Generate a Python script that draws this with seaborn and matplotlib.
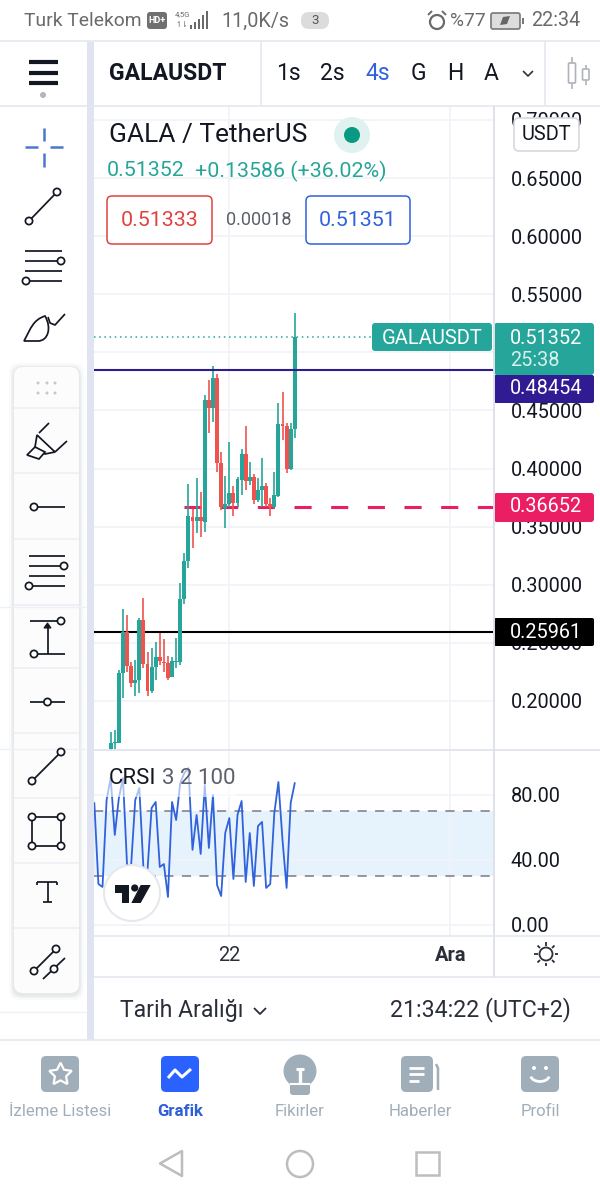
import numpy as np
import pandas as pd
import matplotlib.pyplot as plt
from matplotlib.patches import Circle, FancyBboxPatch, Rectangle, Polygon, PathPatch, Arc
from matplotlib.path import Path
import seaborn as sns

# candles, 4h GALAUSDT
opens = [.1587,.1634,.1639,.2241,.2594,.2301,.2155,.2181,.2697,.2318,.2086,.2293,.2379,.2336,.2327,.2207,
         .2336,.2336,.2878,.3205,.3583,.3549,.3583,.3540,.4590,.4522,.4780,.4048,.3661,.3695,.3790,.3704,
         .3902,.4126,.3893,.3928,.3730,.3816,.3850,.3695,.3670,.3764,.4384,.4367,.3997,.4341]
closes = [.1639,.1647,.2241,.2594,.2301,.2155,.2181,.2697,.2318,.2086,.2293,.2379,.2344,.2327,.2198,.2344,
          .2344,.2878,.3205,.3592,.3549,.3583,.3549,.4590,.4522,.4780,.4048,.3670,.3695,.3790,.3704,.3910,
          .4126,.3893,.3928,.3730,.3816,.3850,.3695,.3670,.3773,.4384,.4367,.3997,.4341,.5133]
highs = [.1733,.1750,.2267,.2792,.2740,.2336,.2353,.2714,.2886,.2422,.2456,.2508,.2585,.2534,.2387,.2379,
         .2542,.3015,.3274,.3867,.3652,.3919,.3799,.4633,.4762,.4883,.4814,.4143,.3936,.4229,.3850,.3928,
         .4169,.4367,.4057,.3954,.3919,.4091,.3876,.3747,.3971,.4565,.4659,.4392,.4392,.5339]
lows = [.1578,.1587,.1634,.2026,.2250,.2120,.2043,.2069,.2284,.2043,.2069,.2181,.2310,.2250,.2181,.2207,
        .2284,.2310,.2835,.3145,.3317,.3446,.3411,.3454,.4306,.4401,.3971,.3644,.3489,.3670,.3592,.3670,
        .3773,.3816,.3859,.3695,.3713,.3670,.3670,.3592,.3661,.3756,.4246,.3962,.3988,.4263]

# CRSI starts 4 bars before the first visible candle
crsi_idx = list(range(-4, 46))
crsi_vals = [75.1,25.2,23.4,76.9,90.5,55.4,78.2,90.5,36.9,36.9,76.9,84.3,35.1,33.8,72.0,75.7,35.7,37.5,17.2,75.7,
             64.6,87.4,93.5,96.6,46.2,67.7,43.7,86.2,47.4,80.0,24.6,17.8,56.6,65.8,28.3,67.7,76.3,26.5,56.6,24.0,
             60.9,63.4,22.8,25.2,68.9,88.0,52.3,22.8,75.1,87.4]

price_ticks = [.20,.25,.30,.35,.40,.45,.50,.55,.60,.65,.70]
crsi_ticks = [0,40,80]
last_price = 0.51352
navy_level = 0.48454
pink_level = 0.36652
black_level = 0.25961
tick_bars = [29,83]
tick_names = ['22','Ara']

GREEN = '#26a69a'
RED = '#ef5350'
BLUE = '#2f62dc'
GRID = '#f1f3f8'
EDGE = '#e4e7ef'
DARK = '#131722'
NAVBLUE = '#a0aeb9'

sns.set_theme(style='white')
plt.rcParams['font.family'] = ['Roboto', 'DejaVu Sans']

fig = plt.figure(figsize=(6,12), dpi=100, facecolor='white')
def px_axes(x0, y0, x1, y1, **kw):
    return fig.add_axes([x0/600, 1-y1/1200, (x1-x0)/600, (y1-y0)/1200], **kw)

# price pane
ax = px_axes(94, 106, 494, 750)
ax.set_xlim(-4.08, 93.7)
ax.set_ylim(0.1578, 0.7120)
ax.set_yticks(price_ticks)
# 0.50000 sits completely under the last price tag
ax.set_yticklabels(['' if p == .50 else '%.5f' % p for p in price_ticks])
ax.yaxis.tick_right()
ax.set_xticks(tick_bars)
ax.set_xticklabels([])
ax.grid(True, color=GRID, lw=1.3)
ax.set_axisbelow(True)
ax.tick_params(axis='y', length=0, pad=12, labelsize=14.3, labelcolor=DARK)
ax.tick_params(axis='x', length=0)
sns.despine(ax=ax, left=True, bottom=True, right=True, top=True)

ax.axhline(black_level, color='black', lw=1.5, zorder=1.5)
ax.hlines(pink_level, 18, 93.7, color='#e91e63', lw=2.2, linestyles=[(0,(5.6,6.4))], zorder=1.6)
ax.axhline(last_price, color=GREEN, lw=1.1, ls=(0,(1,2.4)), zorder=1.5)

idx = np.arange(len(opens))
colors = [GREEN if c >= o else RED for o, c in zip(opens, closes)]
ax.vlines(idx, lows, highs, colors=colors, lw=1.2, zorder=3)
ax.bar(idx, np.array(closes)-np.array(opens), bottom=opens, width=0.95, color=colors, lw=0, zorder=3)
ax.axhline(navy_level, color='#311b92', lw=1.5, zorder=4)

# CRSI pane
ax2 = px_axes(94, 750, 494, 936)
ax2.set_xlim(-4.08, 93.7)
ax2.set_ylim(-6.8, 107.7)
ax2.axhspan(30, 70, color='#e6f2fc', lw=0, zorder=0.5)
ax2.set_yticks(crsi_ticks)
ax2.set_yticklabels(['%.2f' % v for v in crsi_ticks])
ax2.yaxis.tick_right()
ax2.set_xticks(tick_bars)
ax2.set_xticklabels(tick_names)
ax2.get_xticklabels()[1].set_fontweight('bold')
ax2.grid(True, color=GRID, lw=1.3)
ax2.set_axisbelow(True)
ax2.tick_params(axis='y', length=0, pad=12, labelsize=14.3, labelcolor=DARK)
ax2.tick_params(axis='x', length=0, pad=7, labelsize=14.4, labelcolor='#2a2e39')
for lev in [30, 70]:
    ax2.axhline(lev, color='#787b86', lw=1.1, ls=(0,(6,5.5)), zorder=1)
sns.lineplot(x=crsi_idx, y=crsi_vals, ax=ax2, color=BLUE, lw=1.3, zorder=3)
ax2.set_xlabel('')
ax2.set_ylabel('')
sns.despine(ax=ax2, left=True, bottom=True, right=True, top=True)

# everything around the chart, in screen pixels
ui = fig.add_axes([0,0,1,1], zorder=10)
ui.set_xlim(0,600)
ui.set_ylim(1200,0)
ui.axis('off')
ui.patch.set_alpha(0)

def line(xs, ys, c=DARK, lw=1.25, **kw):
    ui.plot(xs, ys, color=c, lw=lw, solid_capstyle=kw.pop('cap','butt'), **kw)
def dot(x, y, r=3.6, fc='white', ec=DARK, lw=1.25):
    ui.add_patch(Circle((x,y), r, fc=fc, ec=ec, lw=lw, zorder=5))
def txt(x, y, s, size=14, c=DARK, ha='left', **kw):
    ui.text(x, y, s, fontsize=size, color=c, ha=ha, va='center', **kw)
def rbox(x0, y0, x1, y1, r=3, fc='white', ec='none', lw=1.2, **kw):
    p = FancyBboxPatch((x0+r,y0+r), x1-x0-2*r, y1-y0-2*r, boxstyle='round,pad=%f,rounding_size=%f' % (r,r),
                       fc=fc, ec=ec, lw=lw, **kw)
    ui.add_patch(p)

# frame lines
ui.add_patch(Rectangle((87,42), 7, 998, fc='#e0e4f1', ec='none'))
line([0,600],[41,41],EDGE,1.2)
line([0,87],[106,106],EDGE,1.2)
line([94,600],[106,106],EDGE,1.2)
line([261,261],[42,106],EDGE,1.2)
line([545,545],[42,106],EDGE,1.2)
line([494,494],[106,978],'#dfe2ea',1.4)
line([94,600],[750,750],'#dfe2ea',1.2)
line([94,600],[936,936],EDGE,1.2)
line([94,600],[977,977],EDGE,1.2)
line([0,600],[1040,1040],EDGE,1.2)
for yy in [607,749,1012]:
    line([0,87],[yy,yy],'#eef0f5',1)
ui.add_patch(Rectangle((495,932),105,3.4,fc='white',ec='none'))

# status bar
txt(24,21,'Turk Telekom',13.9,'#6a6a6a')
rbox(147,12,167,29,r=3,fc='#6f6f6f')
txt(157,20.5,'HD+',6.5,'white',ha='center',fontweight='bold')
txt(182,14,'4,5G',5.5,'#6a6a6a',ha='center')
txt(182,25,'↿⇂',5.5,'#6a6a6a',ha='center')
for k,h in enumerate([4,7,10,14,18]):
    ui.add_patch(Rectangle((190+k*4,29-h),2.4,h,fc='#6a6a6a',ec='none'))
txt(221,21,'11,0K/s',14.2,'#6a6a6a')
rbox(301,12,329,29,r=8,fc='#dcdcdc')
txt(315,20.5,'3',9.5,'#555555',ha='center')
dot(437,22,r=7,ec='#6a6a6a',lw=1.6)
line([437,437,441],[17,22,24],'#6a6a6a',1.2)
line([428,432],[15,11],'#6a6a6a',1.4)
line([442,446],[11,15],'#6a6a6a',1.4)
txt(450,21,'%77',13.8,'#6a6a6a')
rbox(491,13,520,29,r=2,fc='#dddddd',ec='#777777',lw=1.2)
ui.add_patch(Rectangle((522,18),2,6,fc='#777777',ec='none'))
ui.add_patch(Polygon([(500,25),(503,17),(510,16),(507,24)],fc='#666666',ec='none'))
txt(531,21,'22:34',14.2,'#6a6a6a')

# header
for yy in [62,73,83]:
    line([29,58],[yy,yy],'#131722',3)
dot(43,95,r=3,fc='#b2b5bd',ec='none')
txt(109,73,'GALAUSDT',16.6,DARK,fontweight='bold')
for xx,s,c in [(288,'1s',DARK),(332,'2s',DARK),(378,'4s',BLUE),(418,'G',DARK),(455,'H',DARK),(491,'A',DARK)]:
    txt(xx,73,s,16.5,c,ha='center')
line([523,528,533],[71,76,71],'#333333',1.2)
line([572,572],[57,89],'#b0b3bb',1.2)
rbox(568.5,63,575.5,83,r=1,fc='white',ec='#b0b3bb',lw=1.2,zorder=5)
line([585.5,585.5],[65,85],'#b0b3bb',1.2)
rbox(582.5,69,589,80,r=1,fc='white',ec='#b0b3bb',lw=1.2,zorder=5)

# chart legend
txt(109,135,'GALA / TetherUS',18.9,DARK)
ui.add_patch(Circle((352,135),18,fc='#e0f2ef',ec='none'))
ui.add_patch(Circle((352,135),8,fc='#089981',ec='none'))
txt(107,171,'0.51352',15.4,GREEN)
txt(195,171,'+0.13586 (+36.02%)',15.4,GREEN)
rbox(107,196,212,244,r=5,fc='white',ec='#e0433f',lw=1.1)
txt(160,220,'0.51333',15.4,'#e0433f',ha='center')
txt(259,220,'0.00018',13,'#5d606b',ha='center')
rbox(306,196,410,244,r=5,fc='white',ec=BLUE,lw=1.1)
txt(358,220,'0.51351',15.4,BLUE,ha='center')
rbox(514,118,579,151,r=5,fc='white',ec='#d5d8df',lw=1.2)
txt(546.5,134,'USDT',14.4,DARK,ha='center')
ui.add_patch(Rectangle((104,767),132,30,fc='white',ec='none',alpha=0.6))
txt(109,779,'CRSI',16,DARK)
txt(162,779,'3 2 100',16,'#5d606b')

# price tags
rbox(372,323,492,351,r=3,fc=GREEN)
txt(432.5,338,'GALAUSDT',14.5,'white',ha='center')
rbox(494,323,594,375,r=3,fc=GREEN)
txt(510,338,'0.51352',14.3,'white')
txt(510,361,'25:38',14.3,'#d6f0ed')
rbox(494,375,594,403,r=2,fc='#311b92')
txt(510,389,'0.48454',14.3,'white')
rbox(494,493,594,522,r=3,fc='#e91e63')
txt(510,507,'0.36652',14.3,'white')
rbox(494,618,594,646,r=2,fc='black')
txt(510,632,'0.25961',14.3,'white')

# tradingview badge
ui.add_patch(Circle((132,893),28,fc='white',ec='#e6e8ee',lw=1.5))
ui.add_patch(Polygon([(114.7,885),(129,885),(129,903),(122,903),(122,893),(114.7,893)],fc='#131722',ec='none'))
ui.add_patch(Circle((134.7,888),3.6,fc='#131722',ec='none'))
ui.add_patch(Polygon([(150.7,885),(140.7,903),(131.3,903),(140.7,885)],fc='#131722',ec='none'))

# bottom of chart
ui.add_patch(Circle((546,954),6.5,fc='white',ec='#2a2e39',lw=1.3))
for a in np.arange(0,360,45):
    ca,sa = np.cos(np.radians(a)),np.sin(np.radians(a))
    line([546+8.5*ca,546+12*ca],[954+8.5*sa,954+12*sa],'#2a2e39',1.3)
txt(120,1010,'Tarih Aralığı',16.6,'#2a2e39')
line([254,260,266],[1008,1014,1008],'#2a2e39',1.3)
txt(571,1010,'21:34:22 (UTC+2)',16.7,'#2a2e39',ha='right')

# drawing tools
cb = '#4a78cf'
line([44,44],[128,141],cb,1.8)
line([44,44],[153,167],cb,1.8)
line([25,38],[147,147],cb,1.8)
line([50,63],[147,147],cb,1.8)
line([29,57],[221,192])
dot(29,221); dot(57,192)
for yy in [251,261,271,281]:
    line([25,62],[yy,yy])
dot(61,261); dot(26,281)
ui.add_patch(PathPatch(Path([(24,341),(31,328),(33,320),(45,316),(52,328),(48,341),(38,341),(24,341)],
                            [Path.MOVETO,Path.CURVE4,Path.CURVE4,Path.CURVE4,Path.CURVE4,Path.CURVE4,Path.CURVE4,Path.CLOSEPOLY]),
                       fc='white',ec=DARK,lw=1.25))
line([48,50,55,65],[317,323,325,314])

# soft shadow of the tool panel
for grow,al in [(5,0.05),(3,0.08),(1.5,0.12)]:
    rbox(14-grow,367-grow+1,79+grow,993+grow+2,r=10,fc='#9aa0ad',ec='none',alpha=al)
rbox(14,367,79,993,r=9,fc='#fcfcfd',ec='none')
for yy in [408,473,539,605,668,733,798,863,928]:
    line([14,79],[yy,yy],'#eef0f4',1.3)
for xx in [38,47,55]:
    for yy in [383,393]:
        dot(xx,yy,r=1.5,fc='#c4c7cf',ec='none')

# highlighter
line([39,49],[433,423])
ui.add_patch(Polygon([(37,435),(55,452),(45,454),(35,447)],fc='white',ec=DARK,lw=1.25))
ui.add_patch(Polygon([(27,455),(35,447),(45,452),(39,459)],fc='white',ec=DARK,lw=1.25))
line([55,67],[452,441])
# ray
line([34,65],[507,507]); dot(34,507)
# channel
for yy in [556,566,576,586]:
    line([29,65],[yy,yy])
dot(64,566); dot(29,586)
# measure
line([30,63],[621,621]); dot(61,621)
line([34,65],[654,654]); dot(34,654)
line([47.5,47.5],[654,627])
ui.add_patch(Polygon([(44,628),(51,628),(47.5,623)],fc=DARK,ec=DARK,lw=0.8))
# horizontal
line([30,65],[702,702]); dot(47.5,702)
# trend
line([32,61],[781,752]); dot(32,781); dot(61,752)
# box
ui.add_patch(Rectangle((32,817),29,29,fc='none',ec=DARK,lw=1.25))
for xx,yy in [(32,817),(61,817),(32,846),(61,846)]:
    dot(xx,yy)
# text tool
line([37,57],[882,882]); line([37,37],[882,885]); line([57,57],[882,885])
line([47.5,47.5],[882,902]); line([43,52],[902,902])
# parallel
line([34,56],[971,949]); dot(34,971); dot(56,949)
line([43,65],[979,958]); dot(54,969)

# bottom nav
ic = NAVBLUE
rbox(41,1056,79,1092,r=5,fc=ic)
ui.plot([60],[1074],marker=(5,1),ms=17,mfc='none',mec='white',mew=1.6)
txt(60,1111,'İzleme Listesi',12.1,ic,ha='center')
rbox(161,1056,199,1092,r=5,fc='#2962ff')
line([168,175,182,191],[1078,1070,1077,1069],'white',2.2)
txt(180,1111,'Grafik',12.1,'#2e5fd8',ha='center',fontweight='bold')
ui.add_patch(Circle((300,1071),16.5,fc=ic,ec='none'))
rbox(290,1082,310,1095,r=3,fc=ic)
line([296,304],[1069,1069],'white',2.2)
line([300,300],[1069,1084],'white',2.4)
line([290,310],[1084,1084],'white',1.5)
txt(300,1111,'Fikirler',12.1,ic,ha='center')
rbox(401,1056,433,1092,r=5,fc=ic)
line([436,438,438],[1064,1068,1090],ic,1.8)
for yy,xe in [(1068,424),(1074,424),(1081,419)]:
    line([409,xe],[yy,yy],'white',2)
txt(420,1111,'Haberler',12.1,ic,ha='center')
rbox(521,1056,559,1092,r=5,fc=ic)
dot(534,1068,r=2,fc='white',ec='none'); dot(546,1068,r=2,fc='white',ec='none')
ui.add_patch(Arc((540,1075),19,13,theta1=10,theta2=170,ec='white',lw=2))
txt(540,1111,'Profil',12.1,ic,ha='center')

ui.add_patch(Polygon([(182,1151),(160,1163.5),(182,1176)],fc='none',ec='#bdbdbd',lw=1.8,joinstyle='round'))
ui.add_patch(Circle((300,1164),13,fc='none',ec='#bdbdbd',lw=1.8))
ui.add_patch(Rectangle((416,1152),23,23,fc='none',ec='#bdbdbd',lw=1.8))

plt.savefig('out.png', dpi=100)
